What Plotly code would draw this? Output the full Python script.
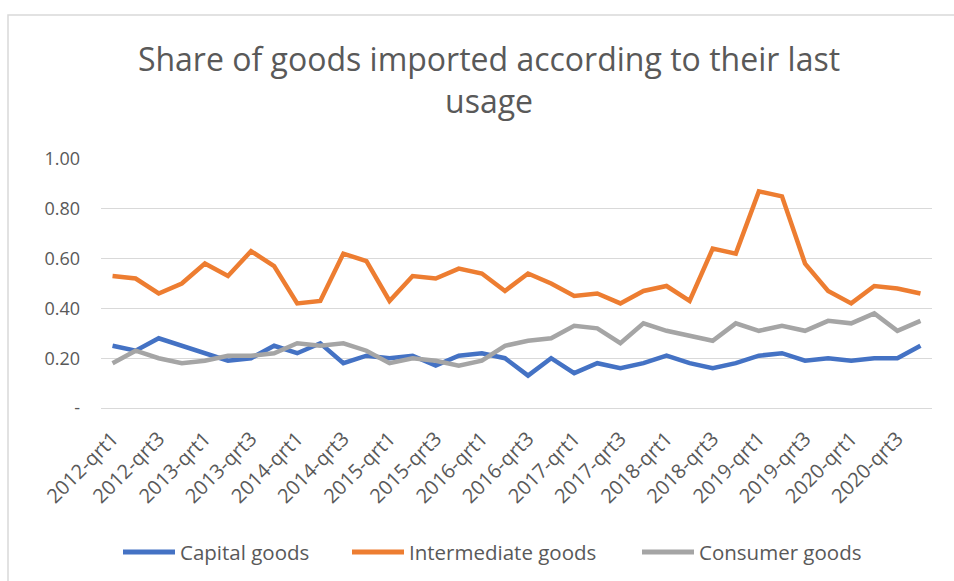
import plotly.graph_objects as go

# Quarterly categories 2012-qrt1 .. 2020-qrt4
quarters = [f"{y}-qrt{q}" for y in range(2012, 2021) for q in range(1, 5)]

capital_goods = [0.25, 0.23, 0.28, 0.25, 0.22, 0.19, 0.20, 0.25, 0.22, 0.26,
                 0.18, 0.21, 0.20, 0.21, 0.17, 0.21, 0.22, 0.20, 0.13, 0.20,
                 0.14, 0.18, 0.16, 0.18, 0.21, 0.18, 0.16, 0.18, 0.21, 0.22,
                 0.19, 0.20, 0.19, 0.20, 0.20, 0.25]
intermediate_goods = [0.53, 0.52, 0.46, 0.50, 0.58, 0.53, 0.63, 0.57, 0.42, 0.43,
                      0.62, 0.59, 0.43, 0.53, 0.52, 0.56, 0.54, 0.47, 0.54, 0.50,
                      0.45, 0.46, 0.42, 0.47, 0.49, 0.43, 0.64, 0.62, 0.87, 0.85,
                      0.58, 0.47, 0.42, 0.49, 0.48, 0.46]
consumer_goods = [0.18, 0.23, 0.20, 0.18, 0.19, 0.21, 0.21, 0.22, 0.26, 0.25,
                  0.26, 0.23, 0.18, 0.20, 0.19, 0.17, 0.19, 0.25, 0.27, 0.28,
                  0.33, 0.32, 0.26, 0.34, 0.31, 0.29, 0.27, 0.34, 0.31, 0.33,
                  0.31, 0.35, 0.34, 0.38, 0.31, 0.35]

y_ticks = [0, 0.2, 0.4, 0.6, 0.8, 1.0]
y_tick_text = ["-", "0.20", "0.40", "0.60", "0.80", "1.00"]
x_tick_labels = quarters[::2]

series_names = ["Capital goods", "Intermediate goods", "Consumer goods"]
series_values = [capital_goods, intermediate_goods, consumer_goods]
series_colors = ["#4472C4", "#ED7D31", "#A5A5A5"]

FONT = "Open Sans"
TEXT = "#595959"
GRID = "#D9D9D9"

W, H = 954, 581
L, R, T, B = 101, 22, 159, 173
pw, ph = W - L - R, H - T - B


def px_x(p):
    return (p - L) / pw


def px_y(p):
    return (H - B - p) / ph


fig = go.Figure()
for name, vals, color in zip(series_names, series_values, series_colors):
    fig.add_trace(go.Scatter(
        x=quarters, y=vals, name=name, mode="lines",
        line=dict(color=color, width=4.5), showlegend=False,
    ))

# Bottom legend: swatch line followed by its label
legend_starts = [121, 350, 640]
swatch_len = 56
legend_y = px_y(552)
shapes = []
annotations = []
for name, color, x0 in zip(series_names, series_colors, legend_starts):
    shapes.append(dict(
        type="line", xref="paper", yref="paper",
        x0=px_x(x0 + 2), x1=px_x(x0 + swatch_len - 2), y0=legend_y, y1=legend_y,
        line=dict(color=color, width=5),
    ))
    annotations.append(dict(
        text=name, xref="paper", yref="paper",
        x=px_x(x0 + swatch_len + 1), y=legend_y, xanchor="left", yanchor="middle",
        showarrow=False, font=dict(family=FONT, size=20.5, color=TEXT),
    ))

# Chart frame
shapes.append(dict(
    type="rect", xref="paper", yref="paper",
    x0=px_x(8), x1=px_x(W + 20), y0=px_y(H + 20), y1=px_y(15),
    line=dict(color=GRID, width=1.5), layer="below",
))

fig.update_layout(
    width=W, height=H,
    margin=dict(l=L, r=R, t=T, b=B),
    paper_bgcolor="white", plot_bgcolor="white",
    font=dict(family=FONT, color=TEXT, size=17),
    title=dict(
        text="Share of goods imported according to their last<br>usage",
        x=489 / W, xanchor="center", xref="container",
        y=1 - 71 / H, yanchor="top", yref="container",
        font=dict(family=FONT, size=32, color=TEXT),
    ),
    xaxis=dict(
        type="category", range=[-0.5, len(quarters) - 0.5],
        tickmode="array", tickvals=x_tick_labels, ticktext=x_tick_labels,
        tickangle=-45, showgrid=False, showline=True, linecolor=GRID,
        linewidth=1, ticks="", ticklabelstandoff=10,
        tickfont=dict(size=20, color=TEXT),
    ),
    yaxis=dict(
        range=[0, 1.0], tickmode="array", tickvals=y_ticks, ticktext=y_tick_text,
        showgrid=True, gridcolor=GRID, gridwidth=1, zeroline=False,
        ticks="", ticklabelstandoff=20, tickfont=dict(size=18, color=TEXT),
    ),
    shapes=shapes,
    annotations=annotations,
)

fig.write_html("out.html")
